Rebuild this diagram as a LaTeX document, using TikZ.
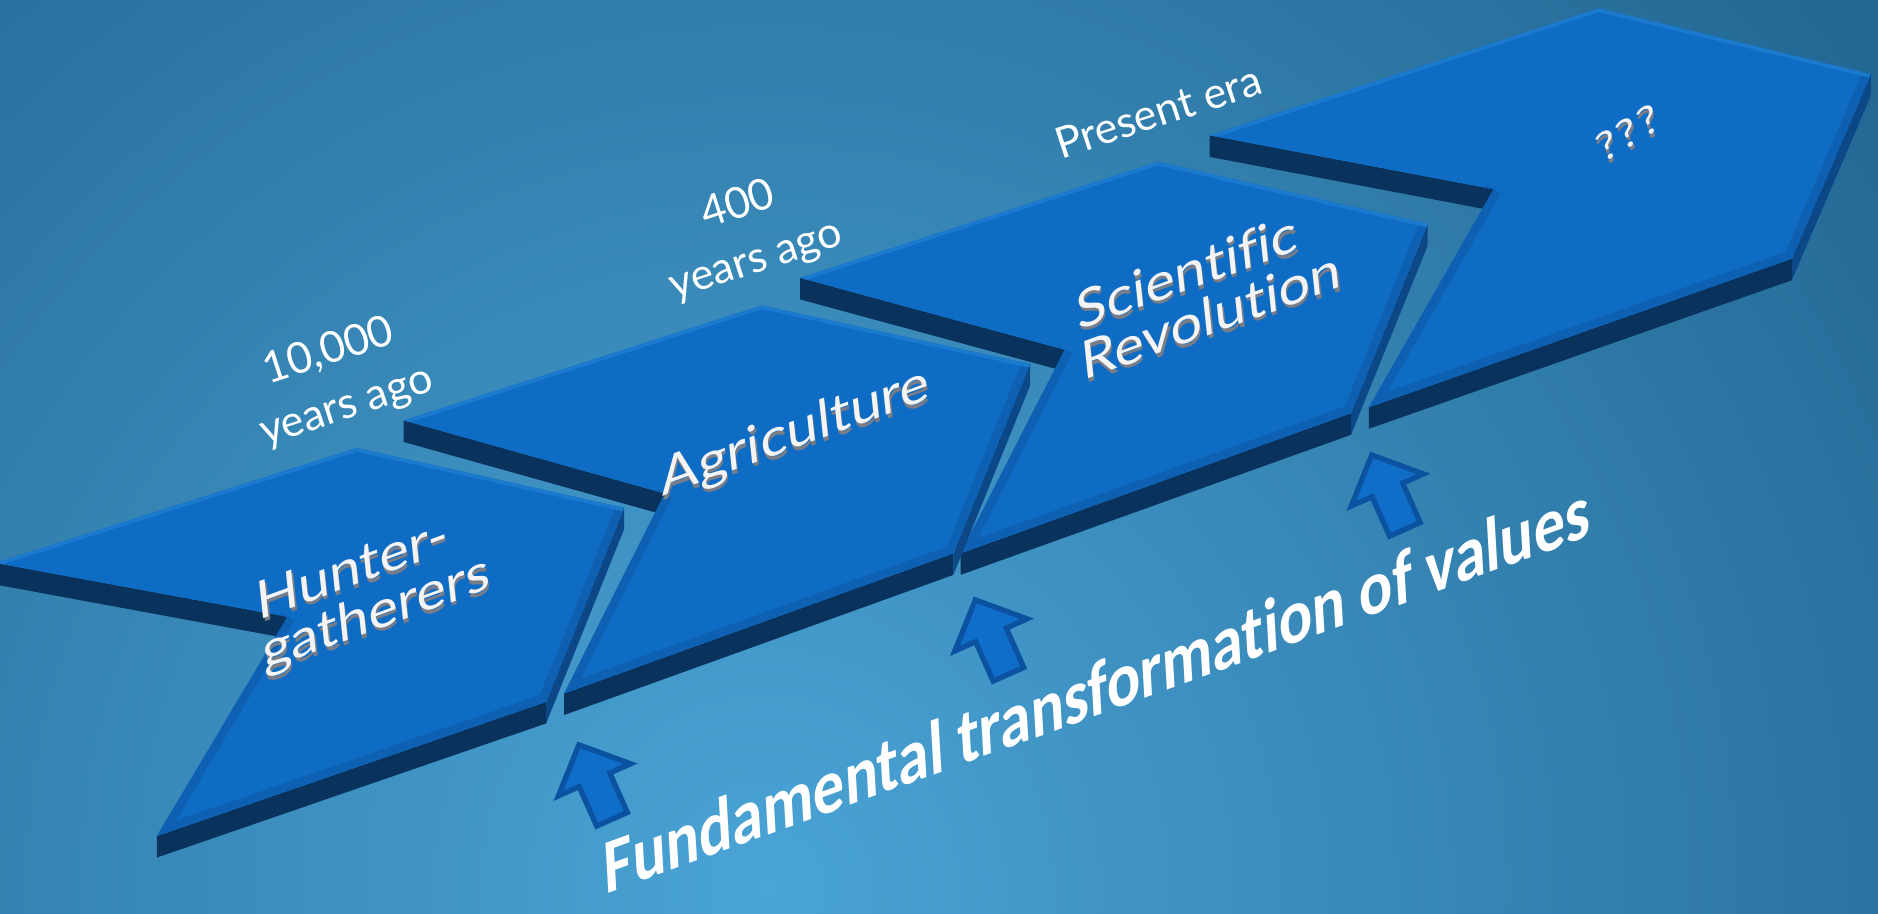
\documentclass[tikz,border=0pt]{standalone}
\usepackage{fontspec}
\setmainfont[Ligatures=NoCommon]{Lato}
\newfontfamily\bfam[Ligatures=NoCommon]{Carlito}
\usetikzlibrary{calc}
\definecolor{bgin}{RGB}{74,164,214}
\definecolor{bgout}{RGB}{21,82,124}
\definecolor{topc}{RGB}{15,108,196}
\definecolor{sidec}{RGB}{9,50,92}
\definecolor{rsidec}{RGB}{12,72,135}
\definecolor{bevfront}{RGB}{13,96,178}
\definecolor{bevtop}{RGB}{28,122,206}
\definecolor{arrfill}{RGB}{16,110,200}
\definecolor{arrline}{RGB}{11,82,160}
\definecolor{shadowc}{RGB}{120,125,135}
\definecolor{lblc}{RGB}{244,244,244}
\newcommand\drawchev[1]{%
  \fill[sidec] (#1a) -- (#1f) -- ($(#1f)+(0,18)$) -- ($(#1a)+(0,18)$) -- cycle;
  \fill[sidec] (#1d) -- (#1e) -- ($(#1e)+(0,18)$) -- ($(#1d)+(0,18)$) -- cycle;
  \fill[rsidec] (#1c) -- (#1d) -- ($(#1d)+(0,18)$) -- ($(#1c)+(0,18)$) -- cycle;
  \fill[topc] (#1a) -- (#1b) -- (#1c) -- (#1d) -- (#1e) -- (#1f) -- cycle;
  \begin{scope}
    \clip (#1a) -- (#1b) -- (#1c) -- (#1d) -- (#1e) -- (#1f) -- cycle;
    \draw[bevfront, line width=7pt, line join=miter] (#1c) -- (#1d) -- (#1e) -- (#1f);
    \draw[bevtop, line width=3pt] (#1a) -- (#1b) -- (#1c);
  \end{scope}}
\newcommand\uparr[2]{%
  \begin{scope}[shift={(#1)}, rotate=24]
    \draw[fill=arrfill, draw=arrline, line width=2.2pt, line join=miter]
      (-14,0) -- (-14,-36) -- (-33,-36) -- (0,-68) -- (33,-36) -- (14,-36) -- (14,0) -- cycle;
    \coordinate (#2) at (0,-34);
  \end{scope}}
\tikzset{
  toplbl/.style={text=white, align=center, rotate=18, inner sep=0pt, font=\fontsize{18}{24}\selectfont},
  chevlbl/.style={text=lblc, align=left, rotate=20, xslant=0.25, yscale=0.86, inner sep=0pt,
    font=\fontsize{24.5}{24}\selectfont},
  chevshadow/.style={chevlbl, text=shadowc}
}
\begin{document}
\begin{tikzpicture}[x=0.5pt, y=-0.5pt]
\useasboundingbox (0,0) rectangle (1568,763);
% background
\begin{scope}
  \clip (0,0) rectangle (1568,763);
  \fill[bgout] (0,0) rectangle (1568,763);
  \shade[inner color=bgin, outer color=bgout] (640,740) circle (1560);
\end{scope}
% chevron coordinates
\coordinate (c4a) at (1010,113); \coordinate (c4b) at (1335,7);  \coordinate (c4c) at (1562,62);
\coordinate (c4d) at (1496,216); \coordinate (c4e) at (1143,340); \coordinate (c4f) at (1247,158);
\coordinate (c3a) at (668,232);  \coordinate (c3b) at (967,135); \coordinate (c3c) at (1192,187);
\coordinate (c3d) at (1128,345); \coordinate (c3e) at (802,462); \coordinate (c3f) at (889,292);
\coordinate (c2a) at (337,351);  \coordinate (c2b) at (636,255); \coordinate (c2c) at (860,304);
\coordinate (c2d) at (796,462);  \coordinate (c2e) at (471,579); \coordinate (c2f) at (555,412);
\coordinate (c1a) at (-4,470);   \coordinate (c1b) at (298,374); \coordinate (c1c) at (521,424);
\coordinate (c1d) at (456,586);  \coordinate (c1e) at (131,698); \coordinate (c1f) at (240,515);
\drawchev{c4}
\drawchev{c3}
\drawchev{c2}
\drawchev{c1}
% chevron labels
\node[chevshadow] (hgs) at (313,496) {Hunter-\\gatherers};
\node[chevlbl] (hg) at (312,493) {Hunter-\\gatherers};
\node[chevshadow] (ags) at (665,365) {Agriculture};
\node[chevlbl] (ag) at (664,362) {Agriculture};
\node[chevshadow] (srs) at (1010,245) {Scientific\\Revolution};
\node[chevlbl] (sr) at (1009,242) {Scientific\\Revolution};
\node[chevshadow, font=\fontsize{19}{19}\selectfont, rotate=14] (qqs) at (1360,114) {?\kern1pt?\kern1pt?};
\node[chevlbl, font=\fontsize{19}{19}\selectfont, rotate=14] (qq) at (1359,111) {?\kern1pt?\kern1pt?};
% time labels
\node[toplbl] (t1) at (282,317) {10,000\\years ago};
\node[toplbl] (t2) at (624,195) {400\\years ago};
\node[toplbl] (t3) at (967,93) {Present era};
% arrows
\uparr{511,684}{ar1}
\uparr{842,563}{ar2}
\uparr{1173,442}{ar3}
% bottom text
\node[anchor=base, rotate=20, xslant=0.3, yscale=1.12, text=white, inner sep=0pt,
      font=\bfam\bfseries\fontsize{27.5}{27.5}\selectfont] (ft) at (917,597)
      {Fundamental transformation of values};
\end{tikzpicture}
\end{document}
